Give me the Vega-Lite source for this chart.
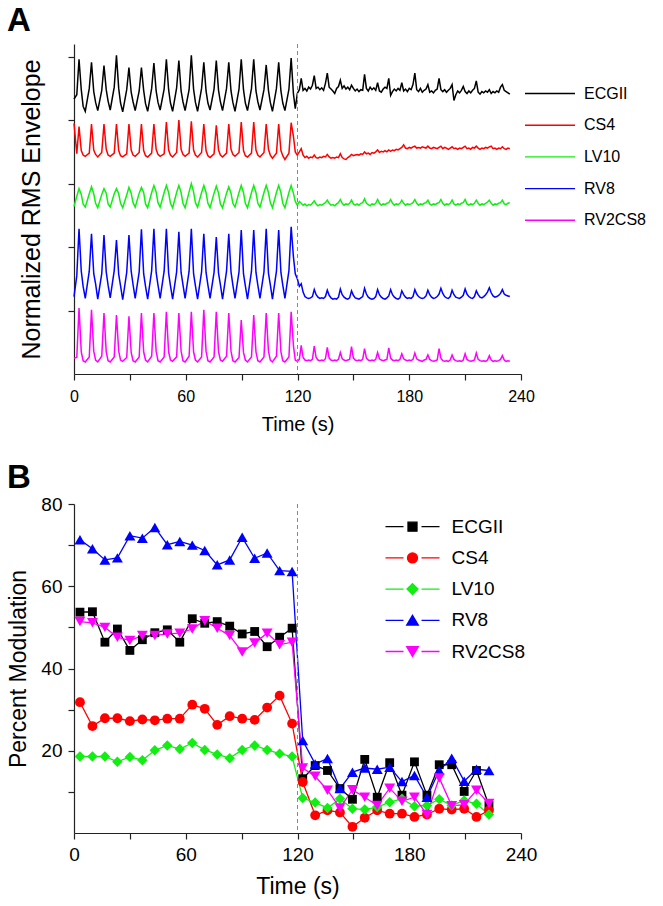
{
  "$schema": "https://vega.github.io/schema/vega-lite/v6.json",
  "background": "white",
  "padding": {"left": 7, "top": 4, "right": 5, "bottom": 5},
  "bounds": "flush",
  "spacing": 130,
  "config": {
    "view": {"stroke": null},
    "font": "Liberation Sans",
    "axis": {"grid": false, "domainColor": "#222", "tickColor": "#222", "domainWidth": 1.2, "tickWidth": 1.2, "tickSize": 6, "labelColor": "#000", "titleColor": "#000", "labelFont": "Liberation Sans", "titleFont": "Liberation Sans", "titleFontWeight": "normal", "labelFlush": false, "labelOverlap": false},
    "legend": {"labelFont": "Liberation Sans", "labelColor": "#000"}
  },
  "resolve": {"scale": {"color": "independent"}, "legend": {"color": "independent"}},
  "vconcat": [
    {
      "width": 447,
      "height": 330,
      "title": {"text": "A", "anchor": "start", "frame": "group", "dx": -67, "offset": 6, "fontSize": 33, "fontWeight": "bold", "font": "Liberation Sans", "color": "#000"},
      "layer": [
        {
          "data": {"values": [
            {"t":0,"ECGII":4.33,"CS4":3.95,"LV10":2.64,"RV8":1.22,"RV2CS8":0.25},
            {"t":1.5,"ECGII":4.40,"CS4":3.47,"LV10":2.80,"RV8":1.55,"RV2CS8":0.26},
            {"t":2.7,"ECGII":4.96,"CS4":3.90,"LV10":2.92,"RV8":2.29,"RV2CS8":1.04},
            {"t":3.9,"ECGII":4.48,"CS4":3.52,"LV10":2.83,"RV8":1.62,"RV2CS8":0.35},
            {"t":4.9,"ECGII":4.22,"CS4":3.45,"LV10":2.68,"RV8":1.38,"RV2CS8":0.21},
            {"t":6.05,"ECGII":4.14,"CS4":3.43,"LV10":2.63,"RV8":1.19,"RV2CS8":0.19},
            {"t":8.2,"ECGII":4.50,"CS4":3.48,"LV10":2.84,"RV8":1.62,"RV2CS8":0.27},
            {"t":9.4,"ECGII":4.91,"CS4":3.94,"LV10":2.95,"RV8":2.21,"RV2CS8":1.01},
            {"t":10.6,"ECGII":4.45,"CS4":3.53,"LV10":2.84,"RV8":1.58,"RV2CS8":0.36},
            {"t":11.6,"ECGII":4.28,"CS4":3.46,"LV10":2.69,"RV8":1.42,"RV2CS8":0.22},
            {"t":12.75,"ECGII":4.15,"CS4":3.42,"LV10":2.62,"RV8":1.18,"RV2CS8":0.19},
            {"t":14.9,"ECGII":4.47,"CS4":3.49,"LV10":2.83,"RV8":1.58,"RV2CS8":0.28},
            {"t":16.1,"ECGII":4.86,"CS4":3.94,"LV10":2.92,"RV8":2.19,"RV2CS8":0.96},
            {"t":17.3,"ECGII":4.48,"CS4":3.54,"LV10":2.85,"RV8":1.61,"RV2CS8":0.35},
            {"t":18.3,"ECGII":4.30,"CS4":3.45,"LV10":2.68,"RV8":1.40,"RV2CS8":0.21},
            {"t":19.45,"ECGII":4.16,"CS4":3.43,"LV10":2.63,"RV8":1.20,"RV2CS8":0.19},
            {"t":21.6,"ECGII":4.52,"CS4":3.48,"LV10":2.84,"RV8":1.63,"RV2CS8":0.27},
            {"t":22.8,"ECGII":5.02,"CS4":3.94,"LV10":2.92,"RV8":2.11,"RV2CS8":0.93},
            {"t":24.0,"ECGII":4.50,"CS4":3.52,"LV10":2.84,"RV8":1.57,"RV2CS8":0.36},
            {"t":25.0,"ECGII":4.27,"CS4":3.44,"LV10":2.69,"RV8":1.39,"RV2CS8":0.22},
            {"t":26.15,"ECGII":4.13,"CS4":3.42,"LV10":2.62,"RV8":1.17,"RV2CS8":0.20},
            {"t":28.3,"ECGII":4.48,"CS4":3.47,"LV10":2.82,"RV8":1.60,"RV2CS8":0.26},
            {"t":29.5,"ECGII":4.83,"CS4":3.94,"LV10":2.94,"RV8":2.19,"RV2CS8":0.91},
            {"t":30.7,"ECGII":4.44,"CS4":3.53,"LV10":2.85,"RV8":1.62,"RV2CS8":0.34},
            {"t":31.7,"ECGII":4.29,"CS4":3.45,"LV10":2.70,"RV8":1.41,"RV2CS8":0.21},
            {"t":32.85,"ECGII":4.15,"CS4":3.43,"LV10":2.63,"RV8":1.19,"RV2CS8":0.19},
            {"t":35.0,"ECGII":4.46,"CS4":3.49,"LV10":2.85,"RV8":1.61,"RV2CS8":0.27},
            {"t":36.2,"ECGII":4.83,"CS4":3.94,"LV10":2.94,"RV8":2.28,"RV2CS8":0.96},
            {"t":37.4,"ECGII":4.47,"CS4":3.52,"LV10":2.86,"RV8":1.58,"RV2CS8":0.35},
            {"t":38.4,"ECGII":4.26,"CS4":3.44,"LV10":2.68,"RV8":1.38,"RV2CS8":0.22},
            {"t":39.55,"ECGII":4.14,"CS4":3.42,"LV10":2.62,"RV8":1.18,"RV2CS8":0.19},
            {"t":41.7,"ECGII":4.50,"CS4":3.48,"LV10":2.86,"RV8":1.63,"RV2CS8":0.28},
            {"t":42.9,"ECGII":4.90,"CS4":3.94,"LV10":2.97,"RV8":2.29,"RV2CS8":0.96},
            {"t":44.1,"ECGII":4.46,"CS4":3.54,"LV10":2.87,"RV8":1.60,"RV2CS8":0.36},
            {"t":45.1,"ECGII":4.28,"CS4":3.46,"LV10":2.70,"RV8":1.40,"RV2CS8":0.21},
            {"t":46.25,"ECGII":4.16,"CS4":3.43,"LV10":2.63,"RV8":1.19,"RV2CS8":0.19},
            {"t":48.4,"ECGII":4.49,"CS4":3.47,"LV10":2.86,"RV8":1.62,"RV2CS8":0.27},
            {"t":49.6,"ECGII":4.96,"CS4":3.97,"LV10":2.97,"RV8":2.29,"RV2CS8":0.98},
            {"t":50.8,"ECGII":4.48,"CS4":3.53,"LV10":2.86,"RV8":1.59,"RV2CS8":0.35},
            {"t":51.8,"ECGII":4.27,"CS4":3.45,"LV10":2.69,"RV8":1.39,"RV2CS8":0.22},
            {"t":52.95,"ECGII":4.14,"CS4":3.42,"LV10":2.62,"RV8":1.18,"RV2CS8":0.20},
            {"t":55.1,"ECGII":4.51,"CS4":3.49,"LV10":2.86,"RV8":1.61,"RV2CS8":0.27},
            {"t":56.3,"ECGII":4.94,"CS4":4.00,"LV10":2.97,"RV8":2.24,"RV2CS8":0.96},
            {"t":57.5,"ECGII":4.46,"CS4":3.54,"LV10":2.86,"RV8":1.60,"RV2CS8":0.36},
            {"t":58.5,"ECGII":4.29,"CS4":3.46,"LV10":2.69,"RV8":1.41,"RV2CS8":0.21},
            {"t":59.65,"ECGII":4.15,"CS4":3.43,"LV10":2.62,"RV8":1.19,"RV2CS8":0.19},
            {"t":61.8,"ECGII":4.48,"CS4":3.48,"LV10":2.87,"RV8":1.62,"RV2CS8":0.28},
            {"t":63.0,"ECGII":5.02,"CS4":3.98,"LV10":3.00,"RV8":2.29,"RV2CS8":0.98},
            {"t":64.2,"ECGII":4.49,"CS4":3.53,"LV10":2.87,"RV8":1.58,"RV2CS8":0.35},
            {"t":65.2,"ECGII":4.28,"CS4":3.45,"LV10":2.70,"RV8":1.39,"RV2CS8":0.22},
            {"t":66.35,"ECGII":4.14,"CS4":3.42,"LV10":2.63,"RV8":1.18,"RV2CS8":0.19},
            {"t":68.5,"ECGII":4.50,"CS4":3.49,"LV10":2.86,"RV8":1.61,"RV2CS8":0.27},
            {"t":69.7,"ECGII":4.91,"CS4":3.94,"LV10":2.97,"RV8":2.21,"RV2CS8":1.01},
            {"t":70.9,"ECGII":4.46,"CS4":3.52,"LV10":2.86,"RV8":1.60,"RV2CS8":0.36},
            {"t":71.9,"ECGII":4.27,"CS4":3.44,"LV10":2.69,"RV8":1.40,"RV2CS8":0.21},
            {"t":73.05,"ECGII":4.16,"CS4":3.41,"LV10":2.62,"RV8":1.19,"RV2CS8":0.19},
            {"t":75.2,"ECGII":4.49,"CS4":3.47,"LV10":2.85,"RV8":1.60,"RV2CS8":0.27},
            {"t":76.4,"ECGII":4.94,"CS4":3.92,"LV10":2.96,"RV8":2.16,"RV2CS8":0.98},
            {"t":77.6,"ECGII":4.47,"CS4":3.53,"LV10":2.85,"RV8":1.59,"RV2CS8":0.35},
            {"t":78.6,"ECGII":4.29,"CS4":3.45,"LV10":2.68,"RV8":1.41,"RV2CS8":0.22},
            {"t":79.75,"ECGII":4.15,"CS4":3.42,"LV10":2.62,"RV8":1.18,"RV2CS8":0.20},
            {"t":81.9,"ECGII":4.50,"CS4":3.48,"LV10":2.85,"RV8":1.62,"RV2CS8":0.28},
            {"t":83.1,"ECGII":4.91,"CS4":3.94,"LV10":2.95,"RV8":2.21,"RV2CS8":0.96},
            {"t":84.3,"ECGII":4.46,"CS4":3.54,"LV10":2.85,"RV8":1.61,"RV2CS8":0.36},
            {"t":85.3,"ECGII":4.28,"CS4":3.46,"LV10":2.69,"RV8":1.40,"RV2CS8":0.21},
            {"t":86.45,"ECGII":4.14,"CS4":3.43,"LV10":2.63,"RV8":1.19,"RV2CS8":0.19},
            {"t":88.6,"ECGII":4.49,"CS4":3.49,"LV10":2.86,"RV8":1.61,"RV2CS8":0.26},
            {"t":89.8,"ECGII":4.96,"CS4":3.97,"LV10":2.97,"RV8":2.27,"RV2CS8":0.85},
            {"t":91.0,"ECGII":4.48,"CS4":3.52,"LV10":2.86,"RV8":1.58,"RV2CS8":0.34},
            {"t":92.0,"ECGII":4.27,"CS4":3.44,"LV10":2.69,"RV8":1.39,"RV2CS8":0.22},
            {"t":93.15,"ECGII":4.15,"CS4":3.42,"LV10":2.62,"RV8":1.18,"RV2CS8":0.19},
            {"t":95.3,"ECGII":4.50,"CS4":3.48,"LV10":2.86,"RV8":1.62,"RV2CS8":0.27},
            {"t":96.5,"ECGII":4.96,"CS4":3.97,"LV10":2.97,"RV8":2.27,"RV2CS8":0.93},
            {"t":97.7,"ECGII":4.46,"CS4":3.53,"LV10":2.86,"RV8":1.60,"RV2CS8":0.35},
            {"t":98.7,"ECGII":4.29,"CS4":3.45,"LV10":2.69,"RV8":1.40,"RV2CS8":0.21},
            {"t":99.85,"ECGII":4.16,"CS4":3.42,"LV10":2.63,"RV8":1.19,"RV2CS8":0.19},
            {"t":102.0,"ECGII":4.48,"CS4":3.49,"LV10":2.86,"RV8":1.61,"RV2CS8":0.27},
            {"t":103.2,"ECGII":4.87,"CS4":3.94,"LV10":2.97,"RV8":2.29,"RV2CS8":0.96},
            {"t":104.4,"ECGII":4.47,"CS4":3.54,"LV10":2.86,"RV8":1.59,"RV2CS8":0.36},
            {"t":105.4,"ECGII":4.28,"CS4":3.45,"LV10":2.70,"RV8":1.41,"RV2CS8":0.22},
            {"t":106.55,"ECGII":4.14,"CS4":3.40,"LV10":2.62,"RV8":1.18,"RV2CS8":0.19},
            {"t":108.7,"ECGII":4.50,"CS4":3.48,"LV10":2.86,"RV8":1.62,"RV2CS8":0.28},
            {"t":109.9,"ECGII":4.91,"CS4":3.94,"LV10":2.97,"RV8":2.27,"RV2CS8":0.96},
            {"t":111.1,"ECGII":4.46,"CS4":3.52,"LV10":2.86,"RV8":1.60,"RV2CS8":0.35},
            {"t":112.1,"ECGII":4.27,"CS4":3.44,"LV10":2.69,"RV8":1.40,"RV2CS8":0.21},
            {"t":113.25,"ECGII":4.15,"CS4":3.38,"LV10":2.62,"RV8":1.19,"RV2CS8":0.19},
            {"t":115.4,"ECGII":4.49,"CS4":3.48,"LV10":2.86,"RV8":1.63,"RV2CS8":0.27},
            {"t":116.6,"ECGII":4.98,"CS4":3.96,"LV10":2.97,"RV8":2.32,"RV2CS8":0.98},
            {"t":117.8,"ECGII":4.42,"CS4":3.75,"LV10":2.85,"RV8":1.85,"RV2CS8":0.45},
            {"t":118.8,"ECGII":4.18,"CS4":3.50,"LV10":2.72,"RV8":1.58,"RV2CS8":0.22},
            {"t":119.9,"ECGII":4.42,"CS4":3.45,"LV10":2.66,"RV8":1.50,"RV2CS8":0.20},
            {"t":121,"ECGII":4.48,"CS4":3.50,"LV10":2.72,"RV8":1.38,"RV2CS8":0.23},
            {"t":122,"ECGII":4.66,"CS4":3.55,"LV10":2.69,"RV8":1.42,"RV2CS8":0.45},
            {"t":123,"ECGII":4.47,"CS4":3.45,"LV10":2.66,"RV8":1.29,"RV2CS8":0.26},
            {"t":124,"ECGII":4.50,"CS4":3.41,"LV10":2.68,"RV8":1.22,"RV2CS8":0.22},
            {"t":125,"ECGII":4.46,"CS4":3.43,"LV10":2.65,"RV8":1.20,"RV2CS8":0.21},
            {"t":126,"ECGII":4.52,"CS4":3.40,"LV10":2.67,"RV8":1.19,"RV2CS8":0.22},
            {"t":127,"ECGII":4.49,"CS4":3.42,"LV10":2.66,"RV8":1.20,"RV2CS8":0.21},
            {"t":128,"ECGII":4.55,"CS4":3.41,"LV10":2.69,"RV8":1.22,"RV2CS8":0.23},
            {"t":129,"ECGII":4.70,"CS4":3.45,"LV10":2.73,"RV8":1.33,"RV2CS8":0.44},
            {"t":130,"ECGII":4.50,"CS4":3.41,"LV10":2.68,"RV8":1.25,"RV2CS8":0.26},
            {"t":131,"ECGII":4.52,"CS4":3.40,"LV10":2.65,"RV8":1.21,"RV2CS8":0.22},
            {"t":132,"ECGII":4.48,"CS4":3.42,"LV10":2.67,"RV8":1.19,"RV2CS8":0.21},
            {"t":133,"ECGII":4.51,"CS4":3.41,"LV10":2.66,"RV8":1.20,"RV2CS8":0.22},
            {"t":134,"ECGII":4.47,"CS4":3.43,"LV10":2.68,"RV8":1.19,"RV2CS8":0.21},
            {"t":135,"ECGII":4.58,"CS4":3.42,"LV10":2.70,"RV8":1.22,"RV2CS8":0.24},
            {"t":136,"ECGII":4.74,"CS4":3.46,"LV10":2.74,"RV8":1.32,"RV2CS8":0.42},
            {"t":137,"ECGII":4.52,"CS4":3.42,"LV10":2.69,"RV8":1.24,"RV2CS8":0.25},
            {"t":138,"ECGII":4.49,"CS4":3.40,"LV10":2.66,"RV8":1.20,"RV2CS8":0.22},
            {"t":139,"ECGII":4.46,"CS4":3.41,"LV10":2.67,"RV8":1.18,"RV2CS8":0.21},
            {"t":140,"ECGII":4.42,"CS4":3.40,"LV10":2.65,"RV8":1.19,"RV2CS8":0.22},
            {"t":141,"ECGII":4.50,"CS4":3.42,"LV10":2.68,"RV8":1.18,"RV2CS8":0.21},
            {"t":142,"ECGII":4.53,"CS4":3.41,"LV10":2.70,"RV8":1.21,"RV2CS8":0.23},
            {"t":143,"ECGII":4.63,"CS4":3.47,"LV10":2.75,"RV8":1.34,"RV2CS8":0.34},
            {"t":144,"ECGII":4.50,"CS4":3.41,"LV10":2.69,"RV8":1.25,"RV2CS8":0.24},
            {"t":145,"ECGII":4.54,"CS4":3.39,"LV10":2.66,"RV8":1.21,"RV2CS8":0.22},
            {"t":146,"ECGII":4.49,"CS4":3.38,"LV10":2.68,"RV8":1.19,"RV2CS8":0.21},
            {"t":147,"ECGII":4.52,"CS4":3.41,"LV10":2.67,"RV8":1.18,"RV2CS8":0.22},
            {"t":148,"ECGII":4.48,"CS4":3.43,"LV10":2.69,"RV8":1.20,"RV2CS8":0.23},
            {"t":149,"ECGII":4.55,"CS4":3.46,"LV10":2.74,"RV8":1.31,"RV2CS8":0.43},
            {"t":150,"ECGII":4.50,"CS4":3.44,"LV10":2.68,"RV8":1.24,"RV2CS8":0.25},
            {"t":151,"ECGII":4.46,"CS4":3.45,"LV10":2.66,"RV8":1.20,"RV2CS8":0.22},
            {"t":152,"ECGII":4.49,"CS4":3.46,"LV10":2.68,"RV8":1.19,"RV2CS8":0.21},
            {"t":153,"ECGII":4.45,"CS4":3.45,"LV10":2.66,"RV8":1.18,"RV2CS8":0.22},
            {"t":154,"ECGII":4.48,"CS4":3.47,"LV10":2.69,"RV8":1.20,"RV2CS8":0.21},
            {"t":155,"ECGII":4.47,"CS4":3.46,"LV10":2.70,"RV8":1.22,"RV2CS8":0.23},
            {"t":156,"ECGII":4.72,"CS4":3.50,"LV10":2.76,"RV8":1.35,"RV2CS8":0.40},
            {"t":157,"ECGII":4.50,"CS4":3.47,"LV10":2.69,"RV8":1.26,"RV2CS8":0.25},
            {"t":158,"ECGII":4.46,"CS4":3.48,"LV10":2.67,"RV8":1.21,"RV2CS8":0.22},
            {"t":159,"ECGII":4.52,"CS4":3.46,"LV10":2.65,"RV8":1.19,"RV2CS8":0.21},
            {"t":160,"ECGII":4.48,"CS4":3.49,"LV10":2.68,"RV8":1.18,"RV2CS8":0.22},
            {"t":161,"ECGII":4.51,"CS4":3.48,"LV10":2.67,"RV8":1.19,"RV2CS8":0.21},
            {"t":162,"ECGII":4.47,"CS4":3.50,"LV10":2.69,"RV8":1.22,"RV2CS8":0.23},
            {"t":163,"ECGII":4.59,"CS4":3.53,"LV10":2.75,"RV8":1.33,"RV2CS8":0.34},
            {"t":164,"ECGII":4.46,"CS4":3.49,"LV10":2.69,"RV8":1.25,"RV2CS8":0.24},
            {"t":165,"ECGII":4.44,"CS4":3.51,"LV10":2.66,"RV8":1.21,"RV2CS8":0.22},
            {"t":166,"ECGII":4.49,"CS4":3.50,"LV10":2.68,"RV8":1.19,"RV2CS8":0.21},
            {"t":167,"ECGII":4.52,"CS4":3.52,"LV10":2.67,"RV8":1.18,"RV2CS8":0.22},
            {"t":168,"ECGII":4.50,"CS4":3.50,"LV10":2.69,"RV8":1.20,"RV2CS8":0.23},
            {"t":169,"ECGII":4.66,"CS4":3.53,"LV10":2.70,"RV8":1.23,"RV2CS8":0.41},
            {"t":170,"ECGII":4.39,"CS4":3.51,"LV10":2.75,"RV8":1.33,"RV2CS8":0.25},
            {"t":171,"ECGII":4.45,"CS4":3.53,"LV10":2.69,"RV8":1.25,"RV2CS8":0.22},
            {"t":172,"ECGII":4.49,"CS4":3.52,"LV10":2.66,"RV8":1.21,"RV2CS8":0.21},
            {"t":173,"ECGII":4.46,"CS4":3.54,"LV10":2.68,"RV8":1.19,"RV2CS8":0.22},
            {"t":174,"ECGII":4.50,"CS4":3.53,"LV10":2.67,"RV8":1.18,"RV2CS8":0.21},
            {"t":175,"ECGII":4.47,"CS4":3.55,"LV10":2.69,"RV8":1.20,"RV2CS8":0.23},
            {"t":176,"ECGII":4.59,"CS4":3.57,"LV10":2.74,"RV8":1.31,"RV2CS8":0.32},
            {"t":177,"ECGII":4.46,"CS4":3.61,"LV10":2.69,"RV8":1.25,"RV2CS8":0.24},
            {"t":178,"ECGII":4.49,"CS4":3.56,"LV10":2.66,"RV8":1.21,"RV2CS8":0.22},
            {"t":179,"ECGII":4.45,"CS4":3.55,"LV10":2.68,"RV8":1.19,"RV2CS8":0.21},
            {"t":180,"ECGII":4.50,"CS4":3.57,"LV10":2.67,"RV8":1.20,"RV2CS8":0.22},
            {"t":181,"ECGII":4.48,"CS4":3.56,"LV10":2.68,"RV8":1.19,"RV2CS8":0.21},
            {"t":182,"ECGII":4.56,"CS4":3.58,"LV10":2.70,"RV8":1.22,"RV2CS8":0.23},
            {"t":183,"ECGII":4.74,"CS4":3.59,"LV10":2.75,"RV8":1.33,"RV2CS8":0.33},
            {"t":184,"ECGII":4.48,"CS4":3.56,"LV10":2.69,"RV8":1.26,"RV2CS8":0.24},
            {"t":185,"ECGII":4.45,"CS4":3.57,"LV10":2.66,"RV8":1.22,"RV2CS8":0.22},
            {"t":186,"ECGII":4.50,"CS4":3.56,"LV10":2.68,"RV8":1.20,"RV2CS8":0.21},
            {"t":187,"ECGII":4.44,"CS4":3.58,"LV10":2.67,"RV8":1.19,"RV2CS8":0.20},
            {"t":188,"ECGII":4.47,"CS4":3.57,"LV10":2.69,"RV8":1.20,"RV2CS8":0.22},
            {"t":189,"ECGII":4.49,"CS4":3.56,"LV10":2.70,"RV8":1.23,"RV2CS8":0.23},
            {"t":190,"ECGII":4.56,"CS4":3.59,"LV10":2.74,"RV8":1.32,"RV2CS8":0.30},
            {"t":191,"ECGII":4.44,"CS4":3.56,"LV10":2.68,"RV8":1.25,"RV2CS8":0.23},
            {"t":192,"ECGII":4.46,"CS4":3.55,"LV10":2.66,"RV8":1.21,"RV2CS8":0.21},
            {"t":193,"ECGII":4.43,"CS4":3.57,"LV10":2.68,"RV8":1.19,"RV2CS8":0.20},
            {"t":194,"ECGII":4.47,"CS4":3.56,"LV10":2.67,"RV8":1.20,"RV2CS8":0.21},
            {"t":195,"ECGII":4.49,"CS4":3.55,"LV10":2.69,"RV8":1.22,"RV2CS8":0.22},
            {"t":196,"ECGII":4.66,"CS4":3.57,"LV10":2.70,"RV8":1.26,"RV2CS8":0.40},
            {"t":197,"ECGII":4.48,"CS4":3.59,"LV10":2.75,"RV8":1.35,"RV2CS8":0.25},
            {"t":198,"ECGII":4.45,"CS4":3.55,"LV10":2.69,"RV8":1.27,"RV2CS8":0.21},
            {"t":199,"ECGII":4.48,"CS4":3.57,"LV10":2.66,"RV8":1.22,"RV2CS8":0.20},
            {"t":200,"ECGII":4.44,"CS4":3.56,"LV10":2.68,"RV8":1.20,"RV2CS8":0.21},
            {"t":201,"ECGII":4.47,"CS4":3.54,"LV10":2.67,"RV8":1.19,"RV2CS8":0.20},
            {"t":202,"ECGII":4.50,"CS4":3.56,"LV10":2.69,"RV8":1.22,"RV2CS8":0.22},
            {"t":203,"ECGII":4.56,"CS4":3.58,"LV10":2.74,"RV8":1.32,"RV2CS8":0.30},
            {"t":204,"ECGII":4.31,"CS4":3.55,"LV10":2.68,"RV8":1.25,"RV2CS8":0.23},
            {"t":205,"ECGII":4.40,"CS4":3.56,"LV10":2.66,"RV8":1.21,"RV2CS8":0.21},
            {"t":206,"ECGII":4.46,"CS4":3.54,"LV10":2.68,"RV8":1.20,"RV2CS8":0.20},
            {"t":207,"ECGII":4.43,"CS4":3.56,"LV10":2.67,"RV8":1.19,"RV2CS8":0.21},
            {"t":208,"ECGII":4.47,"CS4":3.55,"LV10":2.69,"RV8":1.21,"RV2CS8":0.20},
            {"t":209,"ECGII":4.53,"CS4":3.57,"LV10":2.70,"RV8":1.24,"RV2CS8":0.22},
            {"t":210,"ECGII":4.45,"CS4":3.59,"LV10":2.75,"RV8":1.34,"RV2CS8":0.32},
            {"t":211,"ECGII":4.42,"CS4":3.55,"LV10":2.68,"RV8":1.26,"RV2CS8":0.23},
            {"t":212,"ECGII":4.46,"CS4":3.56,"LV10":2.66,"RV8":1.22,"RV2CS8":0.21},
            {"t":213,"ECGII":4.43,"CS4":3.54,"LV10":2.68,"RV8":1.20,"RV2CS8":0.20},
            {"t":214,"ECGII":4.47,"CS4":3.57,"LV10":2.67,"RV8":1.19,"RV2CS8":0.21},
            {"t":215,"ECGII":4.50,"CS4":3.56,"LV10":2.69,"RV8":1.22,"RV2CS8":0.22},
            {"t":216,"ECGII":4.62,"CS4":3.59,"LV10":2.74,"RV8":1.31,"RV2CS8":0.33},
            {"t":217,"ECGII":4.44,"CS4":3.56,"LV10":2.69,"RV8":1.25,"RV2CS8":0.23},
            {"t":218,"ECGII":4.41,"CS4":3.54,"LV10":2.66,"RV8":1.21,"RV2CS8":0.21},
            {"t":219,"ECGII":4.45,"CS4":3.56,"LV10":2.68,"RV8":1.20,"RV2CS8":0.20},
            {"t":220,"ECGII":4.43,"CS4":3.55,"LV10":2.67,"RV8":1.22,"RV2CS8":0.21},
            {"t":221,"ECGII":4.46,"CS4":3.57,"LV10":2.69,"RV8":1.25,"RV2CS8":0.20},
            {"t":222,"ECGII":4.44,"CS4":3.56,"LV10":2.71,"RV8":1.29,"RV2CS8":0.22},
            {"t":223,"ECGII":4.48,"CS4":3.58,"LV10":2.74,"RV8":1.36,"RV2CS8":0.29},
            {"t":224,"ECGII":4.42,"CS4":3.59,"LV10":2.69,"RV8":1.28,"RV2CS8":0.22},
            {"t":225,"ECGII":4.45,"CS4":3.55,"LV10":2.66,"RV8":1.23,"RV2CS8":0.20},
            {"t":226,"ECGII":4.43,"CS4":3.56,"LV10":2.68,"RV8":1.21,"RV2CS8":0.21},
            {"t":227,"ECGII":4.46,"CS4":3.54,"LV10":2.67,"RV8":1.22,"RV2CS8":0.20},
            {"t":228,"ECGII":4.44,"CS4":3.56,"LV10":2.69,"RV8":1.24,"RV2CS8":0.21},
            {"t":229,"ECGII":4.52,"CS4":3.55,"LV10":2.70,"RV8":1.27,"RV2CS8":0.23},
            {"t":230,"ECGII":4.56,"CS4":3.58,"LV10":2.74,"RV8":1.33,"RV2CS8":0.29},
            {"t":231,"ECGII":4.47,"CS4":3.55,"LV10":2.68,"RV8":1.26,"RV2CS8":0.22},
            {"t":232,"ECGII":4.45,"CS4":3.54,"LV10":2.67,"RV8":1.24,"RV2CS8":0.20},
            {"t":233,"ECGII":4.43,"CS4":3.56,"LV10":2.69,"RV8":1.23,"RV2CS8":0.21},
            {"t":234,"ECGII":4.41,"CS4":3.55,"LV10":2.70,"RV8":1.22,"RV2CS8":0.20}
          ]},
          "transform": [{"fold": ["ECGII", "CS4", "LV10", "RV8", "RV2CS8"], "as": ["series", "v"]}],
          "mark": {"type": "line", "strokeWidth": 1.5},
          "encoding": {
            "x": {"field": "t", "type": "quantitative", "scale": {"domain": [0, 240], "nice": false, "zero": false},
                  "axis": {"title": "Time (s)", "values": [0, 30, 60, 90, 120, 150, 180, 210, 240], "labelExpr": "datum.value % 60 === 0 ? datum.label : ''", "labelFontSize": 16, "titleFontSize": 20, "labelPadding": 8, "titlePadding": 10}},
            "y": {"field": "v", "type": "quantitative", "scale": {"domain": [0, 5.2], "nice": false},
                  "axis": {"title": "Normalized RMS Envelope", "values": [1, 2, 3, 4, 5], "labels": false, "titleFontSize": 25, "titlePadding": 23}},
            "color": {"field": "series", "type": "nominal",
                      "scale": {"domain": ["ECGII", "CS4", "LV10", "RV8", "RV2CS8"], "range": ["#000000", "#ff0000", "#11ee11", "#0000ff", "#ff00ff"]},
                      "legend": {"title": null, "orient": "none", "legendX": 465, "legendY": 38.5, "symbolType": "M-2.5,0H2.5", "symbolSize": 400, "symbolStrokeWidth": 1.4, "labelFontSize": 16, "labelOffset": 23, "rowPadding": 12.7}}
          }
        },
        {
          "data": {"values": [{}]},
          "mark": {"type": "rule", "color": "#888888", "strokeDash": [4, 3], "strokeWidth": 1},
          "encoding": {"x": {"datum": 120}}
        }
      ]
    },
    {
      "width": 447,
      "height": 329,
      "title": {"text": "B", "anchor": "start", "frame": "group", "dx": -67, "offset": 0, "fontSize": 33, "fontWeight": "bold", "font": "Liberation Sans", "color": "#000"},
      "layer": [
        {
          "data": {"values": [
            {"t":3.2,"s":"ECGII","v":53.7},{"t":9.9,"s":"ECGII","v":53.8},{"t":16.6,"s":"ECGII","v":46.4},{"t":23.3,"s":"ECGII","v":49.6},{"t":30.0,"s":"ECGII","v":44.4},{"t":36.7,"s":"ECGII","v":47.0},{"t":43.4,"s":"ECGII","v":48.7},{"t":50.1,"s":"ECGII","v":49.4},{"t":56.8,"s":"ECGII","v":46.4},{"t":63.5,"s":"ECGII","v":52.1},{"t":70.2,"s":"ECGII","v":51.0},{"t":76.9,"s":"ECGII","v":51.4},{"t":83.6,"s":"ECGII","v":50.3},{"t":90.3,"s":"ECGII","v":48.4},{"t":97.0,"s":"ECGII","v":49.0},{"t":103.7,"s":"ECGII","v":45.3},{"t":110.4,"s":"ECGII","v":47.6},{"t":117.1,"s":"ECGII","v":49.8},
            {"t":122.8,"s":"ECGII","v":13.2},{"t":129.5,"s":"ECGII","v":16.4},{"t":136.1,"s":"ECGII","v":15.2},{"t":142.8,"s":"ECGII","v":10.8},{"t":149.5,"s":"ECGII","v":8.2},{"t":156.1,"s":"ECGII","v":17.9},{"t":162.8,"s":"ECGII","v":8.7},{"t":169.5,"s":"ECGII","v":17.1},{"t":176.1,"s":"ECGII","v":9.2},{"t":182.8,"s":"ECGII","v":17.3},{"t":189.5,"s":"ECGII","v":9.2},{"t":196.1,"s":"ECGII","v":16.6},{"t":202.8,"s":"ECGII","v":16.6},{"t":209.5,"s":"ECGII","v":10.1},{"t":216.1,"s":"ECGII","v":15.2},{"t":222.8,"s":"ECGII","v":6.7},
            {"t":3.2,"s":"CS4","v":31.8},{"t":9.9,"s":"CS4","v":26.0},{"t":16.6,"s":"CS4","v":27.9},{"t":23.3,"s":"CS4","v":27.9},{"t":30.0,"s":"CS4","v":27.2},{"t":36.7,"s":"CS4","v":27.6},{"t":43.4,"s":"CS4","v":27.4},{"t":50.1,"s":"CS4","v":27.8},{"t":56.8,"s":"CS4","v":27.8},{"t":63.5,"s":"CS4","v":31.2},{"t":70.2,"s":"CS4","v":30.2},{"t":76.9,"s":"CS4","v":26.3},{"t":83.6,"s":"CS4","v":28.4},{"t":90.3,"s":"CS4","v":27.8},{"t":97.0,"s":"CS4","v":27.5},{"t":103.7,"s":"CS4","v":30.5},{"t":110.4,"s":"CS4","v":33.4},{"t":117.1,"s":"CS4","v":26.6},
            {"t":122.8,"s":"CS4","v":12.4},{"t":129.5,"s":"CS4","v":4.3},{"t":136.1,"s":"CS4","v":5.5},{"t":142.8,"s":"CS4","v":5.0},{"t":149.5,"s":"CS4","v":1.5},{"t":156.1,"s":"CS4","v":3.7},{"t":162.8,"s":"CS4","v":5.5},{"t":169.5,"s":"CS4","v":4.7},{"t":176.1,"s":"CS4","v":4.7},{"t":182.8,"s":"CS4","v":3.9},{"t":189.5,"s":"CS4","v":4.5},{"t":196.1,"s":"CS4","v":5.9},{"t":202.8,"s":"CS4","v":5.7},{"t":209.5,"s":"CS4","v":5.9},{"t":216.1,"s":"CS4","v":3.9},{"t":222.8,"s":"CS4","v":5.5},
            {"t":3.2,"s":"LV10","v":18.6},{"t":9.9,"s":"LV10","v":18.6},{"t":16.6,"s":"LV10","v":18.6},{"t":23.3,"s":"LV10","v":17.3},{"t":30.0,"s":"LV10","v":18.5},{"t":36.7,"s":"LV10","v":17.7},{"t":43.4,"s":"LV10","v":20.1},{"t":50.1,"s":"LV10","v":21.3},{"t":56.8,"s":"LV10","v":20.4},{"t":63.5,"s":"LV10","v":21.9},{"t":70.2,"s":"LV10","v":20.2},{"t":76.9,"s":"LV10","v":19.1},{"t":83.6,"s":"LV10","v":18.2},{"t":90.3,"s":"LV10","v":20.2},{"t":97.0,"s":"LV10","v":21.3},{"t":103.7,"s":"LV10","v":20.2},{"t":110.4,"s":"LV10","v":19.3},{"t":117.1,"s":"LV10","v":18.6},
            {"t":122.8,"s":"LV10","v":8.5},{"t":129.5,"s":"LV10","v":7.4},{"t":136.1,"s":"LV10","v":6.1},{"t":142.8,"s":"LV10","v":8.3},{"t":149.5,"s":"LV10","v":5.9},{"t":156.1,"s":"LV10","v":5.7},{"t":162.8,"s":"LV10","v":6.3},{"t":169.5,"s":"LV10","v":7.5},{"t":176.1,"s":"LV10","v":8.3},{"t":182.8,"s":"LV10","v":6.5},{"t":189.5,"s":"LV10","v":6.7},{"t":196.1,"s":"LV10","v":8.2},{"t":202.8,"s":"LV10","v":6.7},{"t":209.5,"s":"LV10","v":7.9},{"t":216.1,"s":"LV10","v":7.1},{"t":222.8,"s":"LV10","v":4.5},
            {"t":3.2,"s":"RV8","v":71.3},{"t":9.9,"s":"RV8","v":69.1},{"t":16.6,"s":"RV8","v":66.4},{"t":23.3,"s":"RV8","v":66.9},{"t":30.0,"s":"RV8","v":72.3},{"t":36.7,"s":"RV8","v":71.7},{"t":43.4,"s":"RV8","v":74.3},{"t":50.1,"s":"RV8","v":70.1},{"t":56.8,"s":"RV8","v":70.9},{"t":63.5,"s":"RV8","v":70.0},{"t":70.2,"s":"RV8","v":68.7},{"t":76.9,"s":"RV8","v":65.2},{"t":83.6,"s":"RV8","v":66.4},{"t":90.3,"s":"RV8","v":71.9},{"t":97.0,"s":"RV8","v":66.8},{"t":103.7,"s":"RV8","v":68.1},{"t":110.4,"s":"RV8","v":63.8},{"t":117.1,"s":"RV8","v":63.6},
            {"t":122.8,"s":"RV8","v":22.5},{"t":129.5,"s":"RV8","v":16.8},{"t":136.1,"s":"RV8","v":18.1},{"t":142.8,"s":"RV8","v":10.8},{"t":149.5,"s":"RV8","v":14.8},{"t":156.1,"s":"RV8","v":15.8},{"t":162.8,"s":"RV8","v":15.5},{"t":169.5,"s":"RV8","v":16.0},{"t":176.1,"s":"RV8","v":12.5},{"t":182.8,"s":"RV8","v":14.0},{"t":189.5,"s":"RV8","v":8.7},{"t":196.1,"s":"RV8","v":15.2},{"t":202.8,"s":"RV8","v":18.2},{"t":209.5,"s":"RV8","v":12.6},{"t":216.1,"s":"RV8","v":15.5},{"t":222.8,"s":"RV8","v":15.2},
            {"t":3.2,"s":"RV2CS8","v":51.4},{"t":9.9,"s":"RV2CS8","v":51.1},{"t":16.6,"s":"RV2CS8","v":50.0},{"t":23.3,"s":"RV2CS8","v":47.6},{"t":30.0,"s":"RV2CS8","v":46.8},{"t":36.7,"s":"RV2CS8","v":48.0},{"t":43.4,"s":"RV2CS8","v":48.0},{"t":50.1,"s":"RV2CS8","v":48.4},{"t":56.8,"s":"RV2CS8","v":48.6},{"t":63.5,"s":"RV2CS8","v":49.6},{"t":70.2,"s":"RV2CS8","v":51.6},{"t":76.9,"s":"RV2CS8","v":49.8},{"t":83.6,"s":"RV2CS8","v":48.0},{"t":90.3,"s":"RV2CS8","v":44.0},{"t":97.0,"s":"RV2CS8","v":46.2},{"t":103.7,"s":"RV2CS8","v":48.6},{"t":110.4,"s":"RV2CS8","v":45.8},{"t":117.1,"s":"RV2CS8","v":46.4},
            {"t":122.8,"s":"RV2CS8","v":15.8},{"t":129.5,"s":"RV2CS8","v":13.8},{"t":136.1,"s":"RV2CS8","v":10.4},{"t":142.8,"s":"RV2CS8","v":6.1},{"t":149.5,"s":"RV2CS8","v":10.5},{"t":156.1,"s":"RV2CS8","v":8.7},{"t":162.8,"s":"RV2CS8","v":6.7},{"t":169.5,"s":"RV2CS8","v":10.9},{"t":176.1,"s":"RV2CS8","v":7.7},{"t":182.8,"s":"RV2CS8","v":8.7},{"t":189.5,"s":"RV2CS8","v":4.5},{"t":196.1,"s":"RV2CS8","v":13.4},{"t":202.8,"s":"RV2CS8","v":6.6},{"t":209.5,"s":"RV2CS8","v":6.9},{"t":216.1,"s":"RV2CS8","v":10.4},{"t":222.8,"s":"RV2CS8","v":7.2}
          ]},
          "encoding": {
            "x": {"field": "t", "type": "quantitative", "scale": {"domain": [0, 240], "nice": false, "zero": false},
                  "axis": {"title": "Time (s)", "values": [0, 30, 60, 90, 120, 150, 180, 210, 240], "labelExpr": "datum.value % 60 === 0 ? datum.label : ''", "labelFontSize": 19, "titleFontSize": 23, "labelPadding": 6, "titlePadding": 11}},
            "y": {"field": "v", "type": "quantitative", "scale": {"domain": [0, 80], "nice": false},
                  "axis": {"title": "Percent Modulation", "values": [10, 20, 30, 40, 50, 60, 70, 80], "labelExpr": "datum.value % 20 === 0 ? datum.label : ''", "labelFontSize": 19, "titleFontSize": 23, "labelPadding": 6, "titlePadding": 10}},
            "color": {"field": "s", "type": "nominal",
                      "scale": {"domain": ["ECGII", "CS4", "LV10", "RV8", "RV2CS8"], "range": ["#000000", "#ff0000", "#11ee11", "#0000ff", "#ff00ff"]},
                      "legend": {"title": null, "orient": "none", "legendX": 327.5, "legendY": 11.7, "symbolSize": 400, "symbolStrokeWidth": 1.3, "labelFontSize": 19, "labelOffset": 28, "rowPadding": 10.2,
                                 "encode": {"symbols": {"update": {
                                   "shape": {"signal": "datum.value === 'ECGII' ? 'M-2.7,0H-0.9M0.9,0H2.7M-0.45,-0.45H0.45V0.45H-0.45Z' : datum.value === 'CS4' ? 'M-2.7,0H-0.9M0.9,0H2.7M0.5,0C0.5,0.28,0.28,0.5,0,0.5C-0.28,0.5,-0.5,0.28,-0.5,0C-0.5,-0.28,-0.28,-0.5,0,-0.5C0.28,-0.5,0.5,-0.28,0.5,0Z' : datum.value === 'LV10' ? 'M-2.7,0H-0.9M0.9,0H2.7M0,-0.55L0.55,0L0,0.55L-0.55,0Z' : datum.value === 'RV8' ? 'M-2.7,0H-0.9M0.9,0H2.7M0,-0.5L0.58,0.48L-0.58,0.48Z' : 'M-2.7,0H-0.9M0.9,0H2.7M0,0.5L0.58,-0.48L-0.58,-0.48Z'"},
                                   "fill": {"signal": "datum.value === 'ECGII' ? '#000000' : datum.value === 'CS4' ? '#ff0000' : datum.value === 'LV10' ? '#11ee11' : datum.value === 'RV8' ? '#0000ff' : '#ff00ff'"},
                                   "stroke": {"signal": "datum.value === 'ECGII' ? '#000000' : datum.value === 'CS4' ? '#ff0000' : datum.value === 'LV10' ? '#11ee11' : datum.value === 'RV8' ? '#0000ff' : '#ff00ff'"},
                                   "opacity": {"value": 1},
                                   "fillOpacity": {"value": 1},
                                   "strokeOpacity": {"value": 1},
                                   "strokeWidth": {"value": 1.3}
                                 }}}}}
          },
          "layer": [
            {"mark": {"type": "line", "strokeWidth": 1.3}},
            {"transform": [{"filter": {"field": "s", "equal": "ECGII"}}], "mark": {"type": "point", "shape": "square", "size": 78, "filled": true, "opacity": 1, "strokeWidth": 0}},
            {"transform": [{"filter": {"field": "s", "equal": "CS4"}}], "mark": {"type": "point", "shape": "circle", "size": 96, "filled": true, "opacity": 1, "strokeWidth": 0}},
            {"transform": [{"filter": {"field": "s", "equal": "LV10"}}], "mark": {"type": "point", "shape": "diamond", "size": 110, "filled": true, "opacity": 1, "strokeWidth": 0}},
            {"transform": [{"filter": {"field": "s", "equal": "RV8"}}], "mark": {"type": "point", "shape": "triangle-up", "size": 120, "filled": true, "opacity": 1, "strokeWidth": 0}},
            {"transform": [{"filter": {"field": "s", "equal": "RV2CS8"}}], "mark": {"type": "point", "shape": "triangle-down", "size": 120, "filled": true, "opacity": 1, "strokeWidth": 0}}
          ]
        },
        {
          "data": {"values": [{}]},
          "mark": {"type": "rule", "color": "#888888", "strokeDash": [4, 3], "strokeWidth": 1},
          "encoding": {"x": {"datum": 120}}
        }
      ]
    }
  ]
}
